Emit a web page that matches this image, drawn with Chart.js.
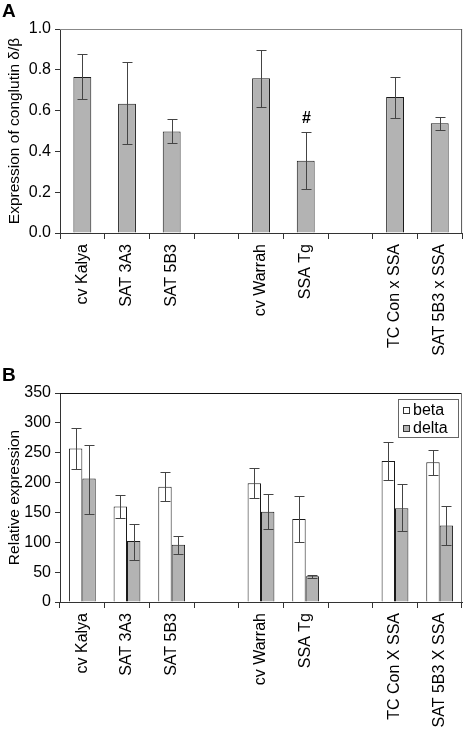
<!DOCTYPE html>
<html>
<head>
<meta charset="utf-8">
<script src="https://cdn.jsdelivr.net/npm/chart.js@4.4.0/dist/chart.umd.min.js"></script>
<style>
  body { margin: 0; background: #fff; font-family: "Liberation Sans", Arial, sans-serif; }
  #wrap { position: relative; width: 464px; height: 735px; }
  .panel { position: absolute; left: 0; width: 464px; }
  .letter { position: absolute; left: 2px; font: bold 19px "Liberation Sans", Arial, sans-serif; color: #000; }
</style>
</head>
<body>
<div id="wrap">
  <div class="panel" style="top:0;height:365px"><canvas id="chartA" width="464" height="365"></canvas></div>
  <div class="letter" style="top:0">A</div>
  <div class="panel" style="top:365px;height:370px"><canvas id="chartB" width="464" height="370"></canvas></div>
  <div class="letter" style="top:364px">B</div>
</div>
<script>
// panel A
const labelsA = ['cv Kalya', 'SAT 3A3', 'SAT 5B3', '', 'cv Warrah', 'SSA Tg', '', 'TC Con x SSA', 'SAT 5B3 x SSA'];
const ratio    = [0.765, 0.634, 0.498, null, 0.758, 0.354, null, 0.667, 0.538];
const ratioLo  = [0.655, 0.435, 0.440, null, 0.618, 0.214, null, 0.564, 0.503];
const ratioHi  = [0.877, 0.840, 0.559, null, 0.897, 0.494, null, 0.763, 0.570];
const marksA   = ['', '', '', '', '', '#', '', '', ''];

// panel B
const labelsB = ['cv Kalya', 'SAT 3A3', 'SAT 5B3', '', 'cv Warrah', 'SSA Tg', '', 'TC Con X SSA', 'SAT 5B3 X SSA'];
const beta    = [257, 160, 193, null, 199, 139, null, 236, 234];
const betaLo  = [223, 140, 169, null, 175, 100, null, 204, 212];
const betaHi  = [291, 180, 217, null, 224, 178, null, 268, 255];
const delta   = [207, 102, 96, null, 151, 43, null, 157, 128];
const deltaLo = [148, 71, 80, null, 122, 41, null, 119, 96];
const deltaHi = [263, 131, 111, null, 181, 46, null, 197, 160];

const FONT = 'Liberation Sans';
const GREY = '#b3b3b3';
const EDGE = '#1a1a1a';

const errorBars = {
  id: 'errorBars',
  afterDatasetsDraw(chart) {
    const ctx = chart.ctx;
    const y = chart.scales.y;
    chart.data.datasets.forEach((ds, d) => {
      const meta = chart.getDatasetMeta(d);
      meta.data.forEach((bar, i) => {
        if (ds.data[i] == null) return;
        const x = Math.round(bar.x) + 0.5;
        const top = Math.round(y.getPixelForValue(ds.errHi[i])) + 0.5;
        const bot = Math.round(y.getPixelForValue(ds.errLo[i])) + 0.5;
        ctx.save();
        ctx.strokeStyle = '#444';
        ctx.lineWidth = 1;
        ctx.beginPath();
        ctx.moveTo(x, top); ctx.lineTo(x, bot);
        ctx.moveTo(x - 5, top); ctx.lineTo(x + 5, top);
        ctx.moveTo(x - 5, bot); ctx.lineTo(x + 5, bot);
        ctx.stroke();
        if (ds.marks && ds.marks[i]) {
          ctx.fillStyle = '#000';
          ctx.font = 'bold 16px ' + FONT;
          ctx.textAlign = 'center';
          ctx.textBaseline = 'bottom';
          ctx.fillText(ds.marks[i], x, top - 6);
        }
        ctx.restore();
      });
    });
  }
};

const frame = {
  id: 'frame',
  afterDraw(chart, args, opts) {
    const a = chart.chartArea;
    const ctx = chart.ctx;
    ctx.save();
    ctx.lineWidth = 1;
    ctx.strokeStyle = opts.top;
    ctx.beginPath(); ctx.moveTo(a.left, a.top + 0.5); ctx.lineTo(a.right, a.top + 0.5); ctx.stroke();
    ctx.strokeStyle = opts.right;
    ctx.beginPath(); ctx.moveTo(a.right - 0.5, a.top); ctx.lineTo(a.right - 0.5, a.bottom); ctx.stroke();
    ctx.restore();
  }
};

const boxLegend = {
  id: 'boxLegend',
  afterDraw(chart, args, opts) {
    if (!opts.show) return;
    const a = chart.chartArea;
    const ctx = chart.ctx;
    const x0 = Math.round(a.right) - 64, y0 = Math.round(a.top) + 6, w = 60, h = 38;
    ctx.save();
    ctx.fillStyle = '#fff';
    ctx.fillRect(x0, y0, w, h);
    ctx.strokeStyle = '#666';
    ctx.lineWidth = 1;
    ctx.strokeRect(x0 + 0.5, y0 + 0.5, w, h);
    ctx.font = '16px ' + FONT;
    ctx.textBaseline = 'middle';
    chart.data.datasets.forEach((ds, d) => {
      const cy = y0 + 11 + d * 18;
      ctx.fillStyle = ds.backgroundColor;
      ctx.fillRect(x0 + 5, cy - 3, 7, 7);
      ctx.strokeStyle = '#333';
      ctx.strokeRect(x0 + 5.5, cy - 2.5, 6, 6);
      ctx.fillStyle = '#000';
      ctx.fillText(ds.label, x0 + 15, cy + 1);
    });
    ctx.restore();
  }
};

function axes(yMin, yMax, step, digits, title, H, bottom) {
  return {
    x: {
      grid: { display: true, offset: true, drawOnChartArea: false, tickLength: 6, color: '#333' },
      border: { display: true, color: '#333', width: 1 },
      ticks: { color: '#000', font: { family: FONT, size: 16 }, minRotation: 90, maxRotation: 90, autoSkip: false, padding: 5 },
      afterFit(s) { s.height = H - bottom; }
    },
    y: {
      min: yMin, max: yMax,
      grid: { display: true, drawOnChartArea: false, tickLength: 5, color: '#333' },
      border: { display: true, color: '#333', width: 1 },
      ticks: { stepSize: step, color: '#000', font: { family: FONT, size: 16 }, padding: 4,
        callback: v => v.toFixed(digits) },
      title: { display: true, text: title, color: '#000', font: { family: FONT, size: 15.5 }, padding: { top: 5, bottom: 0 } },
      afterFit(s) { s.width = 60; }
    }
  };
}

new Chart(document.getElementById('chartA'), {
  type: 'bar',
  data: {
    labels: labelsA,
    datasets: [{
      label: 'ratio', data: ratio, errLo: ratioLo, errHi: ratioHi, marks: marksA,
      backgroundColor: GREY, borderColor: EDGE, borderWidth: 1,
      categoryPercentage: 0.4, barPercentage: 1.0
    }]
  },
  options: {
    responsive: false, animation: false,
    layout: { padding: { top: 29, right: 1, left: 0, bottom: 0 } },
    plugins: { legend: { display: false }, tooltip: { enabled: false },
      frame: { top: '#888', right: '#555' }, boxLegend: { show: false } },
    scales: axes(0, 1, 0.2, 1, 'Expression of conglutin δ/β', 365, 233)
  },
  plugins: [errorBars, frame, boxLegend]
});

new Chart(document.getElementById('chartB'), {
  type: 'bar',
  data: {
    labels: labelsB,
    datasets: [
      { label: 'beta', data: beta, errLo: betaLo, errHi: betaHi,
        backgroundColor: '#ffffff', borderColor: EDGE, borderWidth: 1,
        categoryPercentage: 0.6, barPercentage: 1.0 },
      { label: 'delta', data: delta, errLo: deltaLo, errHi: deltaHi,
        backgroundColor: GREY, borderColor: EDGE, borderWidth: 1,
        categoryPercentage: 0.6, barPercentage: 1.0 }
    ]
  },
  options: {
    responsive: false, animation: false,
    layout: { padding: { top: 28, right: 2, left: 0, bottom: 0 } },
    plugins: { legend: { display: false }, tooltip: { enabled: false },
      frame: { top: '#111', right: '#777' }, boxLegend: { show: true } },
    scales: axes(0, 350, 50, 0, 'Relative expression', 370, 237)
  },
  plugins: [errorBars, frame, boxLegend]
});
</script>
</body>
</html>
